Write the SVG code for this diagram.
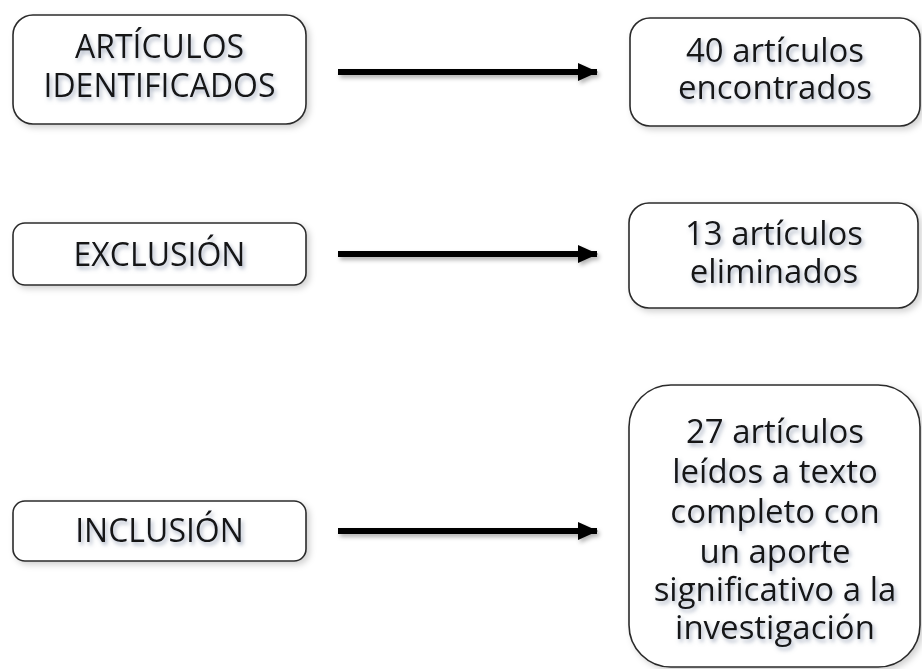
<svg xmlns="http://www.w3.org/2000/svg" width="922" height="669" viewBox="0 0 922 669">
<defs>
<filter id="ts" x="-10%" y="-30%" width="120%" height="160%">
<feDropShadow dx="2" dy="3" stdDeviation="2" flood-color="#6f7f99" flood-opacity="0.6"/>
</filter>
<filter id="bs" x="-5%" y="-10%" width="115%" height="130%">
<feDropShadow dx="3" dy="3" stdDeviation="3" flood-color="#000" flood-opacity="0.18"/>
</filter>
<filter id="as" filterUnits="userSpaceOnUse" x="0" y="0" width="922" height="669">
<feDropShadow dx="2" dy="3" stdDeviation="2" flood-color="#000" flood-opacity="0.3"/>
</filter>
<marker id="ah" viewBox="0 0 20 18" refX="19" refY="9" markerWidth="20" markerHeight="18" orient="auto" markerUnits="userSpaceOnUse">
<path d="M0,0 L20,9 L0,18 z" fill="#000"/>
</marker>
</defs>
<style>
.box{fill:#fff;stroke:#2b2b2b;stroke-width:1.6;filter:url(#bs)}
.t{font-family:"Open Sans","Noto Sans","Liberation Sans",sans-serif;font-size:33px;fill:#151515;text-anchor:middle;filter:url(#ts)}
.c{font-size:32px}
.arr{stroke:#000;stroke-width:6;fill:none;marker-end:url(#ah);filter:url(#as)}
</style>
<rect width="922" height="669" fill="#fff"/>
<g id="n1"><rect class="box" x="13" y="15" width="293" height="109" rx="20"/>
<text class="t c" x="159.5" y="58">ARTÍCULOS</text><text class="t c" x="159.5" y="97">IDENTIFICADOS</text></g>
<g id="n2"><rect class="box" x="630" y="18" width="290" height="108" rx="20"/>
<text class="t" x="775" y="62">40 artículos</text><text class="t" x="775" y="99">encontrados</text></g>
<g id="n3"><rect class="box" x="13" y="223" width="293" height="62" rx="12"/>
<text class="t c" x="159.5" y="266">EXCLUSIÓN</text></g>
<g id="n4"><rect class="box" x="629" y="203" width="289" height="105" rx="20"/>
<text class="t" x="774" y="245">13 artículos</text><text class="t" x="774" y="283">eliminados</text></g>
<g id="n5"><rect class="box" x="13" y="501" width="293" height="60" rx="12"/>
<text class="t c" x="159.5" y="542">INCLUSIÓN</text></g>
<g id="n6"><rect class="box" x="629" y="385" width="291" height="282" rx="42"/>
<text class="t" x="775" y="443">27 artículos</text>
<text class="t" x="775" y="483">leídos a texto</text>
<text class="t" x="775" y="523">completo con</text>
<text class="t" x="775" y="563">un aporte</text>
<text class="t" x="775" y="601">significativo a la</text>
<text class="t" x="775" y="639">investigación</text></g>
<g id="connectors">
<line class="arr" x1="338" y1="72" x2="597" y2="72"/>
<line class="arr" x1="338" y1="254" x2="597" y2="254"/>
<line class="arr" x1="338" y1="531" x2="597" y2="531"/>
</g>
</svg>
